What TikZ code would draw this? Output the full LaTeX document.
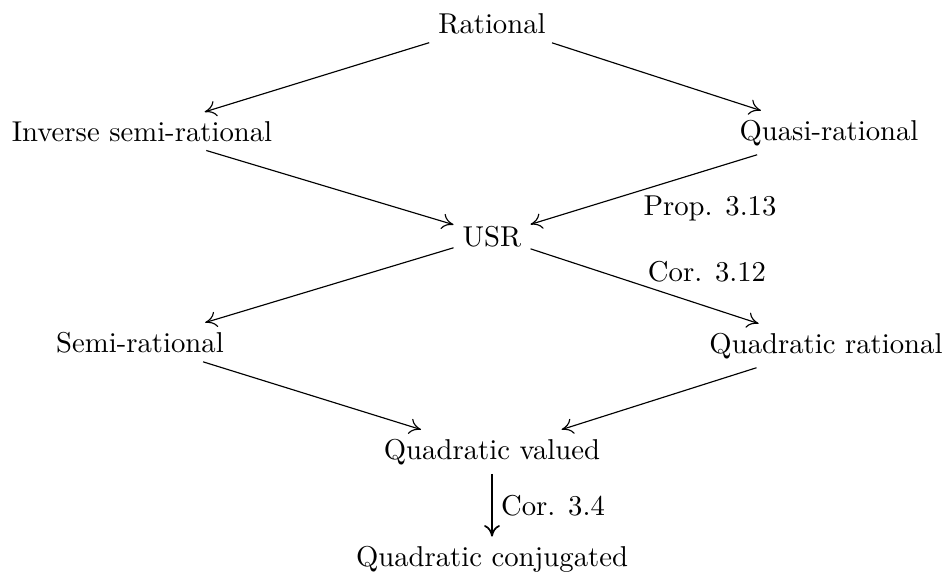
\documentclass[tikz,border=0pt]{standalone}
\usetikzlibrary{arrows.meta}
\begin{document}
\begin{tikzpicture}[x=0.3484pt,y=-0.3484pt,
  obj/.style={inner sep=3pt, anchor=base},
  arr/.style={-{To[length=4pt,width=5.5pt]}, line width=0.4pt},
  elbl/.style={inner sep=0pt, anchor=base}]
\useasboundingbox (0,0) rectangle (948,573);
\node[obj] (rat) at (492,33) {Rational};
\node[obj] (isr) at (142,141) {Inverse semi-rational};
\node[obj] (qr) at (829,140) {Quasi-rational};
\node[obj] (usr) at (492,246) {USR};
\node[obj] (sr) at (140,352) {Semi-rational};
\node[obj] (qrat) at (826,353) {Quadratic rational};
\node[obj] (qv) at (492,459) {Quadratic valued};
\node[obj] (qc) at (492,566) {Quadratic conjugated};
\draw[arr] (rat) -- (isr);
\draw[arr] (rat) -- (qr);
\draw[arr] (isr) -- (usr);
\draw[arr] (qr) -- (usr);
\draw[arr] (usr) -- (sr);
\draw[arr] (usr) -- (qrat);
\draw[arr] (sr) -- (qv);
\draw[arr] (qrat) -- (qv);
\draw[arr, line width=0.6pt] (qv) -- (qc);
\node[elbl] (l1) at (710,215) {Prop. 3.13};
\node[elbl] (l2) at (707,281) {Cor. 3.12};
\node[elbl] (l3) at (553,515) {Cor. 3.4};
\end{tikzpicture}
\end{document}
